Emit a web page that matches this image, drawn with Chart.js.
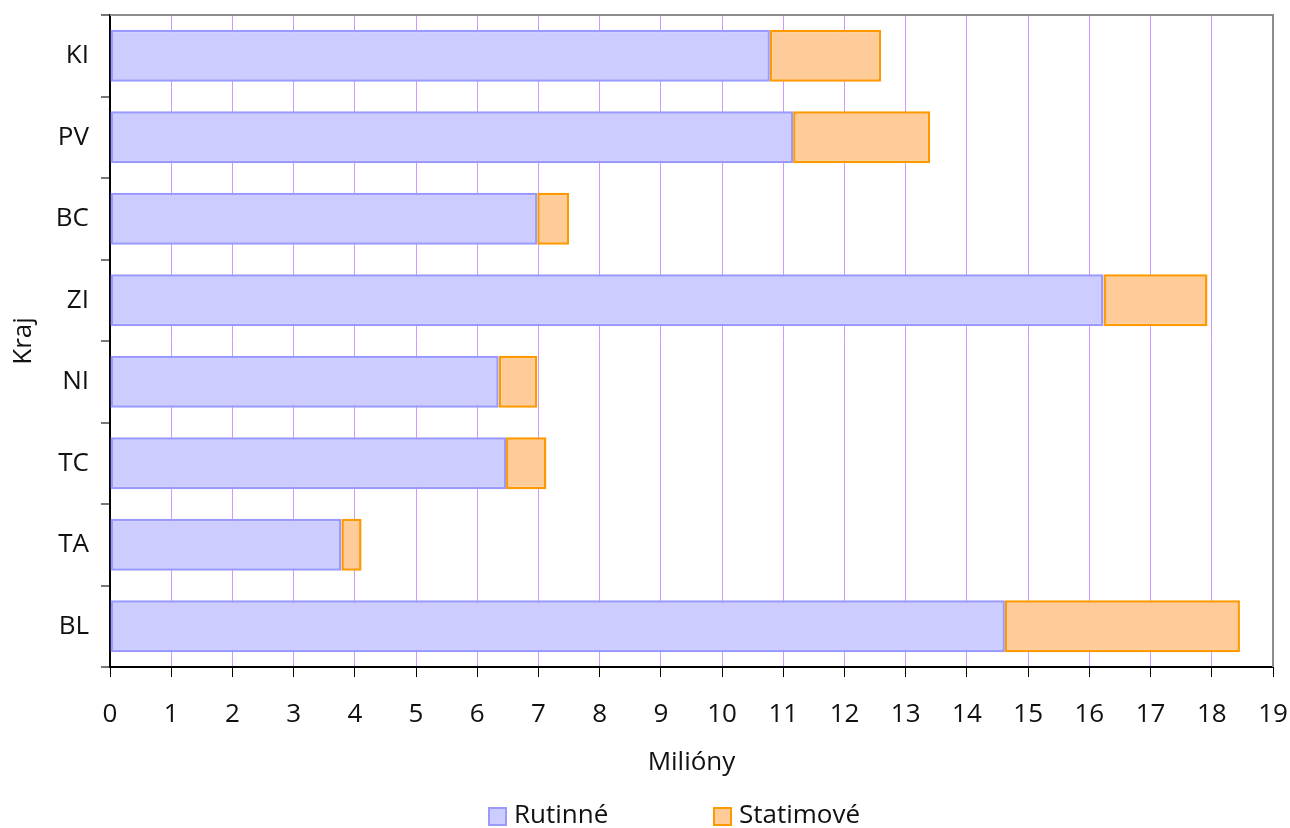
<!DOCTYPE html>
<html>
<head>
<meta charset="utf-8">
<script src="https://cdn.jsdelivr.net/npm/chart.js@4/dist/chart.umd.min.js"></script>
<style>
  html, body { margin: 0; padding: 0; background: #fff; }
  #wrap { width: 1290px; height: 828px; }
</style>
</head>
<body>
<div id="wrap"><canvas id="c" width="1290" height="828"></canvas></div>
<script>
// kraje a hodnoty (miliony)
const kraje = ["KI", "PV", "BC", "ZI", "NI", "TC", "TA", "BL"];
const rutinne = [10.78, 11.16, 6.98, 16.23, 6.35, 6.47, 3.78, 14.62];
const statimove = [1.82, 2.24, 0.52, 1.70, 0.63, 0.66, 0.33, 3.84];
const xTicks = [0, 1, 2, 3, 4, 5, 6, 7, 8, 9, 10, 11, 12, 13, 14, 15, 16, 17, 18, 19];

const FONT = "'Open Sans', 'Noto Sans', sans-serif";
const FS = 26;

// horni a prava hrana plochy grafu
const frame = {
  id: "frame",
  afterDatasetsDraw(chart) {
    const { ctx, chartArea: a } = chart;
    ctx.save();
    ctx.strokeStyle = "#8c8c8c";
    ctx.lineWidth = 2;
    ctx.beginPath();
    ctx.moveTo(a.left, a.top);
    ctx.lineTo(a.right, a.top);
    ctx.lineTo(a.right, a.bottom);
    ctx.stroke();
    ctx.restore();
  }
};

// legenda dole (vlastni, kvuli rozestupum)
const legenda = {
  id: "legenda",
  afterDraw(chart) {
    const { ctx } = chart;
    const items = chart.data.datasets;
    const xs = [488, 713];
    const y = 816;
    ctx.save();
    ctx.font = FS + "px " + FONT;
    ctx.textBaseline = "middle";
    items.forEach((ds, i) => {
      ctx.fillStyle = ds.backgroundColor;
      ctx.fillRect(xs[i], y - 9, 19, 19);
      ctx.strokeStyle = ds.borderColor;
      ctx.lineWidth = 2;
      ctx.strokeRect(xs[i] + 1, y - 8, 17, 17);
      ctx.fillStyle = "#111";
      ctx.fillText(ds.label, xs[i] + 26, y);
    });
    ctx.restore();
  }
};

new Chart(document.getElementById("c"), {
  type: "bar",
  data: {
    labels: kraje,
    datasets: [
      {
        label: "Rutinné",
        data: rutinne,
        backgroundColor: "#ccccff",
        borderColor: "#9999ff",
        borderWidth: 2.5,
        borderSkipped: false,
        categoryPercentage: 1,
        barPercentage: 0.64
      },
      {
        label: "Statimové",
        data: statimove,
        backgroundColor: "#ffcc99",
        borderColor: "#ff9900",
        borderWidth: 2.5,
        borderSkipped: false,
        categoryPercentage: 1,
        barPercentage: 0.64
      }
    ]
  },
  options: {
    indexAxis: "y",
    responsive: false,
    animation: false,
    devicePixelRatio: 1,
    layout: { padding: { top: 15, right: 17, left: 0, bottom: 50 } },
    plugins: {
      legend: { display: false },
      tooltip: { enabled: false }
    },
    scales: {
      x: {
        stacked: true,
        min: 0,
        max: 19,
        afterBuildTicks: (s) => { s.ticks = xTicks.map(v => ({ value: v })); },
        afterFit: (s) => { s.height = 111; s.paddingLeft = 0; s.paddingRight = 0; },
        grid: { color: "#cc99ff", lineWidth: 1, tickLength: 10, tickColor: "#000" },
        border: { color: "#000", width: 2 },
        ticks: { color: "#111", font: { family: FONT, size: FS }, padding: 22, maxRotation: 0, autoSkip: false },
        title: { display: true, text: "Milióny", color: "#111", font: { family: FONT, size: FS }, padding: { top: 0, bottom: 0 } }
      },
      y: {
        stacked: true,
        afterFit: (s) => { s.width = 110; s.paddingTop = 0; s.paddingBottom = 0; },
        grid: { drawOnChartArea: false, offset: true, tickLength: 9, tickColor: "#777", lineWidth: 2 },
        border: { color: "#000", width: 2 },
        ticks: { color: "#111", font: { family: FONT, size: FS }, padding: 12 },
        title: { display: true, text: "Kraj", color: "#111", font: { family: FONT, size: FS }, padding: { top: 8, bottom: 0 } }
      }
    }
  },
  plugins: [frame, legenda]
});
</script>
</body>
</html>
